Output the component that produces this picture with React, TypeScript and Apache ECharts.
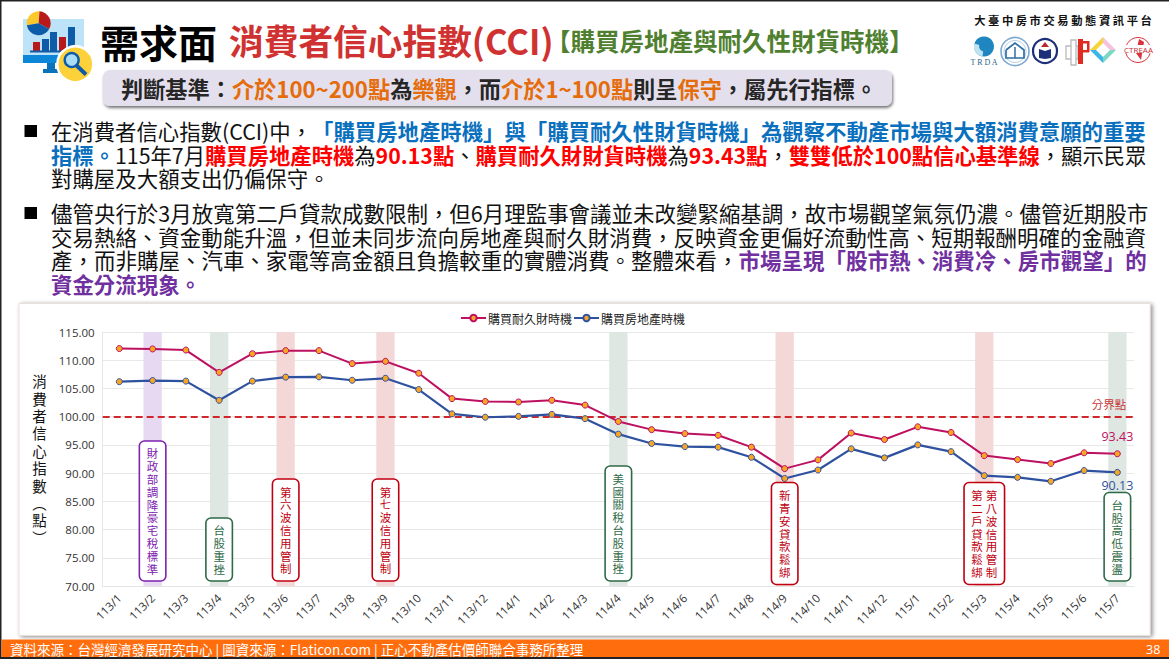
import React, { useEffect, useRef } from "react";
import * as echarts from "echarts";

const categories = ["113/1","113/2","113/3","113/4","113/5","113/6","113/7","113/8","113/9","113/10","113/11","113/12","114/1","114/2","114/3","114/4","114/5","114/6","114/7","114/8","114/9","114/10","114/11","114/12","115/1","115/2","115/3","115/4","115/5","115/6","115/7"];
const durableValues = [112.07,112.0,111.8,107.85,111.15,111.7,111.7,109.4,109.8,107.7,103.2,102.7,102.6,102.9,102.05,99.15,97.7,97.0,96.7,94.6,90.8,92.35,97.1,95.95,98.2,97.2,93.1,92.4,91.7,93.6,93.43];
const housingValues = [106.2,106.4,106.3,102.9,106.3,107.0,107.05,106.45,106.8,104.8,100.5,99.9,100.05,100.4,99.65,96.9,95.25,94.7,94.6,92.8,89.05,90.55,94.3,92.7,95.0,93.8,89.55,89.25,88.55,90.45,90.13];
const thresholdValue = 100;
const bandPurple = ["113/2"];
const bandGreen = ["113/4", "114/4", "115/7"];
const bandRed = ["113/6", "113/9", "114/9", "115/3"];
const noteCategories = ["113/2","113/4","113/6","113/9","114/4","114/9","115/3","115/7"];
const noteColumns = [["財政部調降豪宅稅標準"],["台股重挫"],["第六波信用管制"],["第七波信用管制"],["美國關稅台股重挫"],["新青安貸款鬆綁"],["第二戶貸款鬆綁","第八波信用管制"],["台股高低震盪"]];
const yAxisTitle = "消費者信心指數︵點︶";
const seriesNames = ["購買耐久財時機", "購買房地產時機"];

const FONT = '"Noto Sans CJK TC", "Noto Sans", sans-serif';
const LATIN = '"Open Sans", "Noto Sans CJK TC", sans-serif';
const GRID = { left: 102.7, top: 332, width: 1031.3, height: 254 };
const catX = (c: string) => GRID.left + (categories.indexOf(c) + 0.5) * (GRID.width / categories.length);

const NOTE_STYLE: Record<string, { c: string }> = {
  purple: { c: "#7E22B0" }, green: { c: "#2F6A47" }, red: { c: "#C00010" },
};
const noteLook = ["purple","green","red","red","green","red","red","green"];
const noteSpans = [[441,581],[518,581],[479,581],[479,581],[466,581],[482.5,584.5],[482.5,584.5],[492.5,581]];

const bodyLines: { y: number; fs: number; s: string }[] = [
  { y: 130, fs: 21.39, s: "{n|在消費者信心指數(CCI)中，}{b|「購買房地產時機」與「購買耐久性財貨時機」為觀察不動產市場與大額消費意願的重要}" },
  { y: 154, fs: 21.33, s: "{b|指標。}{n|115年7月}{r|購買房地產時機}{n|為}{r|90.13點}{n|、}{r|購買耐久財財貨時機}{n|為}{r|93.43點}{n|，}{r|雙雙低於100點信心基準線}{n|，顯示民眾}" },
  { y: 177, fs: 21.45, s: "{n|對購屋及大額支出仍偏保守。}" },
  { y: 212, fs: 21.47, s: "{n|儘管央行於3月放寬第二戶貸款成數限制，但6月理監事會議並未改變緊縮基調，故市場觀望氣氛仍濃。儘管近期股市}" },
  { y: 236, fs: 21.47, s: "{n|交易熱絡、資金動能升溫，但並未同步流向房地產與耐久財消費，反映資金更偏好流動性高、短期報酬明確的金融資}" },
  { y: 259, fs: 21.49, s: "{n|產，而非購屋、汽車、家電等高金額且負擔較重的實體消費。整體來看，}{p|市場呈現「股市熱、消費冷、房市觀望」的}" },
  { y: 283, fs: 21.45, s: "{p|資金分流現象。}" },
];
const bodyRich = (fs: number) => ({
  n: { fill: "#111", fontSize: fs, fontFamily: FONT },
  b: { fill: "#0A70BE", fontSize: fs, fontWeight: "bold", fontFamily: FONT },
  r: { fill: "#FF0000", fontSize: fs, fontWeight: "bold", fontFamily: FONT },
  p: { fill: "#7030A0", fontSize: fs, fontWeight: "bold", fontFamily: FONT },
});

function buildGraphic(): any[] {
  const g: any[] = [];
  const T = (text: string, x: number, y: number, o: any = {}) => g.push({ type: "text", z: o.z ?? 30, style: { text, x, y, fontFamily: FONT, verticalAlign: "middle", ...o } });
  const R = (x: number, y: number, w: number, h: number, fill: string, z = 20) => g.push({ type: "rect", z, shape: { x, y, width: w, height: h }, style: { fill } });

  // frame + bottom bar
  R(0, 0, 1169, 1.5, "#222"); R(0, 0, 1.5, 659, "#222"); R(0, 657, 1169, 2, "#222");
  R(1.5, 639.5, 1167.5, 17.5, "#FF6D0D");
  T("資料來源：台灣經濟發展研究中心 | 圖資來源：Flaticon.com | 正心不動產估價師聯合事務所整理", 10, 649, { fill: "#fff", fontSize: 13.5 });
  T("38", 1146, 649, { fill: "#fff", fontSize: 12.5, fontFamily: LATIN });

  // chart panel
  g.push({ type: "rect", z: -10, shape: { x: 19, y: 303.5, width: 1131, height: 332 }, style: { fill: "#fff", stroke: "#EADFDB", lineWidth: 1, shadowBlur: 4, shadowOffsetX: 2, shadowOffsetY: 1, shadowColor: "rgba(0,0,0,0.45)" } });

  // icon
  R(23, 19, 61, 36, "#BDE3F8");
  R(23, 55, 61, 8, "#0C86D6");
  R(47, 63, 8, 6, "#0B72BC"); R(43, 69, 16, 4, "#0B72BC");
  const cx = 38.7, cy = 23.3, pr = 12;
  g.push({ type: "sector", z: 21, shape: { cx, cy, r: pr, r0: 0, startAngle: Math.PI * 0.95, endAngle: Math.PI * 1.52 }, style: { fill: "#FBC92B" } });
  g.push({ type: "sector", z: 21, shape: { cx, cy, r: pr, r0: 0, startAngle: Math.PI * 1.52, endAngle: Math.PI * 2.16 }, style: { fill: "#B8191B" } });
  g.push({ type: "sector", z: 21, shape: { cx, cy, r: pr, r0: 0, startAngle: Math.PI * 0.16, endAngle: Math.PI * 0.95 }, style: { fill: "#0E5CA8" } });
  R(33, 42, 7, 9, "#B8191B", 21); R(42, 39, 7, 12, "#0E5CA8", 21); R(50, 32, 7, 19, "#0E5CA8", 21); R(59, 37, 7, 14, "#B8191B", 21); R(68, 27, 7, 24, "#0E5CA8", 21);
  R(30, 50.5, 42, 2, "#0E5CA8", 21);
  g.push({ type: "circle", z: 22, shape: { cx: 75.3, cy: 64.3, r: 18 }, style: { fill: "#FDD13A", stroke: "#fff", lineWidth: 2.5 } });
  g.push({ type: "line", z: 23, shape: { x1: 76, y1: 65, x2: 86, y2: 74.5 }, style: { stroke: "#0E5CA8", lineWidth: 4 } });
  g.push({ type: "circle", z: 24, shape: { cx: 71.7, cy: 60, r: 7 }, style: { fill: "#A9DCF5", stroke: "#0E5CA8", lineWidth: 2.4 } });

  // heading
  T("需求面", 100, 41, { fill: "#000", fontSize: 39, fontWeight: "bold" });
  T("消費者信心指數(CCI)", 229, 40, { fill: "#D03232", fontSize: 34.7, fontWeight: "bold" });
  T("【購買房地產與耐久性財貨時機】", 546, 40, { fill: "#4F8030", fontSize: 24.5, fontWeight: "bold" });

  // criteria box
  g.push({ type: "rect", z: 20, shape: { x: 103, y: 70, width: 789, height: 36, r: 7 }, style: { fill: "#E4DFEC", shadowBlur: 3, shadowOffsetX: 1, shadowOffsetY: 2, shadowColor: "rgba(0,0,0,0.55)" } });
  const oa = { fill: "#E46C0A", fontSize: 22.2, fontWeight: "bold", fontFamily: FONT };
  const dk = { fill: "#262626", fontSize: 22.2, fontWeight: "bold", fontFamily: FONT };
  T("{k|判斷基準：}{o|介於100~200點}{k|為}{o|樂觀}{k|，而}{o|介於1~100點}{k|則呈}{o|保守}{k|，屬先行指標。}", 121, 87.5, { rich: { k: dk, o: oa } });

  // platform title + logos
  T("大 臺 中 房 市 交 易 動 態 資 訊 平 台", 1063, 20, { fill: "#111", fontSize: 11.3, fontWeight: "bold", align: "center" });
  g.push({ type: "circle", z: 21, shape: { cx: 984, cy: 46.5, r: 10 }, style: { fill: "#1F86C0" } });
  g.push({ type: "sector", z: 22, shape: { cx: 984, cy: 46.5, r: 10, r0: 5, startAngle: Math.PI * 0.55, endAngle: Math.PI * 1.1 }, style: { fill: "#BFE3F2" } });
  T("T R D A", 984, 62, { fill: "#2B5F8A", fontSize: 8, align: "center", fontFamily: '"Liberation Serif", serif' });
  g.push({ type: "circle", z: 21, shape: { cx: 1015, cy: 51.5, r: 14 }, style: { fill: "#fff", stroke: "#7FA9CF", lineWidth: 1.6 } });
  g.push({ type: "circle", z: 21, shape: { cx: 1015, cy: 51.5, r: 11 }, style: { fill: "#fff", stroke: "#B7CFE4", lineWidth: 1 } });
  g.push({ type: "polyline", z: 22, shape: { points: [[1006, 50], [1015, 43], [1024, 50], [1024, 58], [1006, 58], [1006, 50]] }, style: { fill: "none", stroke: "#2F6EA6", lineWidth: 1.7 } });
  g.push({ type: "line", z: 22, shape: { x1: 1015, y1: 47, x2: 1015, y2: 58 }, style: { stroke: "#2F6EA6", lineWidth: 1.5 } });
  g.push({ type: "circle", z: 21, shape: { cx: 1045, cy: 51, r: 12 }, style: { fill: "#fff", stroke: "#1C2F7A", lineWidth: 2.2 } });
  g.push({ type: "polygon", z: 22, shape: { points: [[1039, 49], [1045, 51], [1051, 49], [1051, 58], [1045, 59], [1039, 58]] }, style: { fill: "#1C2F7A" } });
  g.push({ type: "polygon", z: 22, shape: { points: [[1041, 47], [1045, 42], [1049, 47]] }, style: { fill: "#B8282E" } });
  g.push({ type: "rect", z: 21, shape: { x: 1066, y: 46, width: 12, height: 13 }, style: { fill: "#fff", stroke: "#BBB", lineWidth: 1.3 } });
  g.push({ type: "rect", z: 21, shape: { x: 1071, y: 40, width: 5, height: 25 }, style: { fill: "#fff", stroke: "#BBB", lineWidth: 1.3 } });
  R(1078, 39, 5, 25, "#E02B20", 22); R(1083, 41, 6, 2.5, "#E02B20", 22); R(1083, 50, 6, 2.5, "#E02B20", 22); R(1087, 41, 2.5, 11, "#E02B20", 22);
  g.push({ type: "polygon", z: 21, shape: { points: [[1103, 37], [1116, 50], [1110, 50], [1103, 43]] }, style: { fill: "#F6C3DE" } });
  g.push({ type: "polygon", z: 21, shape: { points: [[1103, 37], [1090, 50], [1096, 50], [1103, 43]] }, style: { fill: "#F5D33C" } });
  g.push({ type: "polygon", z: 21, shape: { points: [[1090, 50], [1103, 63], [1103, 57], [1096, 50]] }, style: { fill: "#39B6E8" } });
  g.push({ type: "polygon", z: 21, shape: { points: [[1116, 50], [1103, 63], [1103, 57], [1110, 50]] }, style: { fill: "#7CD8C2" } });
  g.push({ type: "circle", z: 21, shape: { cx: 1138, cy: 50, r: 12.5 }, style: { fill: "#fff", stroke: "#D8333A", lineWidth: 1 } });
  g.push({ type: "polygon", z: 22, shape: { points: [[1139, 39], [1144, 42], [1141, 60], [1136, 53]] }, style: { fill: "#D8333A" } });
  g.push({ type: "rect", z: 23, shape: { x: 1124, y: 45, width: 29, height: 8 }, style: { fill: "#fff" } });
  T("CTREAA", 1138.5, 49.5, { fill: "#C92A30", fontSize: 8, align: "center", fontFamily: LATIN, z: 24 });

  // body
  g.push({ type: "rect", z: 20, shape: { x: 24.5, y: 125, width: 12.5, height: 12 }, style: { fill: "#000" } });
  g.push({ type: "rect", z: 20, shape: { x: 24.5, y: 207, width: 12.5, height: 12 }, style: { fill: "#000" } });
  bodyLines.forEach((l) => T(l.s, 51, l.y, { rich: bodyRich(l.fs) }));

  // threshold caption
  T("分界點", 1109, 404, { fill: "#C8383B", fontSize: 11.5, align: "center" });

  // callouts
  noteCategories.forEach((cat, i) => {
    const cols = noteColumns[i];
    const c = NOTE_STYLE[noteLook[i]].c;
    const [top, bottom] = noteSpans[i];
    const x0 = catX(cat);
    const w = cols.length > 1 ? 40.5 : 26.5;
    g.push({ type: "rect", z: 40, shape: { x: x0 - w / 2, y: top, width: w, height: bottom - top, r: 5 }, style: { fill: "#fff", stroke: c, lineWidth: 1.6 } });
    cols.forEach((col, k) => {
      const dx = cols.length > 1 ? (k === 0 ? -7.2 : 7.2) : 0;
      T(col.split("").join("\n"), x0 + dx, (top + bottom) / 2, { fill: c, fontSize: 11.5, lineHeight: 12.8, align: "center", z: 41 });
    });
  });
  return g;
}

export default function App() {
  const ref = useRef<HTMLDivElement>(null);
  useEffect(() => {
    document.body.style.margin = "0";
    const chart = echarts.init(ref.current!, undefined, { renderer: "svg" });
    const bandColor = (c: string) =>
      bandPurple.includes(c) ? "#E7D9F1" : bandGreen.includes(c) ? "#DFE7E2" : bandRed.includes(c) ? "#F4D8D8" : null;
    chart.setOption({
      animation: false,
      backgroundColor: "#fff",
      textStyle: { fontFamily: FONT },
      legend: {
        data: seriesNames, left: 460, top: 312, itemWidth: 25, itemHeight: 8, itemGap: 1, padding: 0,
        textStyle: { fontSize: 12, color: "#222", fontFamily: FONT, padding: [0, 0, 0, -3] },
      },
      grid: { left: GRID.left, top: GRID.top, width: GRID.width, height: GRID.height, containLabel: false },
      xAxis: {
        type: "category", data: categories, boundaryGap: true,
        axisTick: { show: false },
        axisLine: { lineStyle: { color: "#E4E4E4", width: 1 } },
        axisLabel: { interval: 0, rotate: 45, margin: 10, fontSize: 11.5, color: "#333", fontFamily: LATIN },
      },
      yAxis: {
        type: "value", min: 70, max: 115, interval: 5,
        name: yAxisTitle.split("").join("\n"), nameLocation: "middle", nameRotate: 0, nameGap: 56,
        nameTextStyle: { fontSize: 14.5, lineHeight: 17.4, color: "#111", fontFamily: FONT, padding: [6, 0, 0, 0] },
        axisLine: { show: true, lineStyle: { color: "#E8E8E8" } },
        axisTick: { show: false },
        splitLine: { lineStyle: { color: "#E8E8E8", width: 1 } },
        axisLabel: { formatter: (v: number) => v.toFixed(2), fontSize: 11.5, color: "#333", margin: 8, fontFamily: LATIN },
      },
      series: [
        {
          name: "bands", type: "bar", z: 1, barWidth: 18.3, silent: true, legendHoverLink: false,
          data: categories.map((c) => {
            const color = bandColor(c);
            return color ? { value: 115, itemStyle: { color } } : null;
          }),
          markLine: {
            silent: true, symbol: "none", z: 2, label: { show: false },
            lineStyle: { color: "#D0272D", width: 2.2, type: [7, 4] },
            data: [{ yAxis: thresholdValue }],
          },
        },
        {
          name: seriesNames[0], type: "line", z: 3, data: durableValues, symbol: "circle", symbolSize: 6,
          lineStyle: { color: "#BD1060", width: 2 },
          itemStyle: { color: "#F6A623", borderColor: "#BD1060", borderWidth: 1 },
          label: { show: true, position: "top", distance: 8, color: "#BD1060", fontSize: 12.5, fontFamily: LATIN,
            formatter: (p: any) => (p.dataIndex === categories.length - 1 ? p.value.toFixed(2) : "") },
        },
        {
          name: seriesNames[1], type: "line", z: 3, data: housingValues, symbol: "circle", symbolSize: 6,
          lineStyle: { color: "#2F52A0", width: 2.2 },
          itemStyle: { color: "#F6A623", borderColor: "#2F52A0", borderWidth: 1 },
          label: { show: true, position: "bottom", distance: 3, color: "#2F52A0", fontSize: 12.5, fontFamily: LATIN,
            formatter: (p: any) => (p.dataIndex === categories.length - 1 ? p.value.toFixed(2) : "") },
        },
      ],
      graphic: { elements: buildGraphic() },
    });
    return () => chart.dispose();
  }, []);
  return <div ref={ref} style={{ position: "fixed", left: 0, top: 0, width: 1169, height: 659 }} />;
}
